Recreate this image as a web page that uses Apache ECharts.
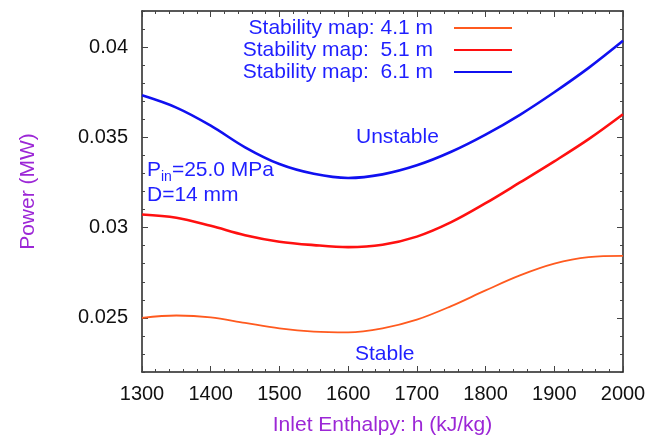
<!DOCTYPE html>
<html>
<head>
<meta charset="utf-8">
<script src="https://cdn.jsdelivr.net/npm/echarts@6/dist/echarts.min.js"></script>
<style>
  html, body { margin: 0; padding: 0; background: #fff; }
  #chart { width: 664px; height: 438px; }
</style>
</head>
<body>
<div id="chart"></div>
<script>
// Inlet enthalpy (kJ/kg)
const enthalpy = [1300, 1350, 1400, 1450, 1500, 1550, 1600, 1650, 1700, 1750, 1800, 1850, 1900, 1950, 2000];
// Threshold power (MW) for each heated length
const power41 = [0.02500, 0.02513, 0.02503, 0.02472, 0.02442, 0.02424, 0.02420, 0.02442, 0.02490, 0.02565, 0.02652, 0.02735, 0.02800, 0.02836, 0.02843];
const power51 = [0.03073, 0.03055, 0.03010, 0.02958, 0.02922, 0.02903, 0.02892, 0.02905, 0.02950, 0.03030, 0.03135, 0.03250, 0.03367, 0.03490, 0.03628];
const power61 = [0.03733, 0.03665, 0.03565, 0.03445, 0.03352, 0.03298, 0.03275, 0.03295, 0.03345, 0.03420, 0.03515, 0.03625, 0.03750, 0.03885, 0.04035];

const seriesNames = ['Stability map: 4.1 m', 'Stability map:  5.1 m', 'Stability map:  6.1 m'];
const yMajorTicks = [0.025, 0.03, 0.035, 0.04];

const blueText = '#1f1fff';
const violet = '#9c27d6';
const font = 'Liberation Sans, Arial, Helvetica, sans-serif';

const pairs = (ys) => enthalpy.map((h, i) => [h, ys[i]]);

const chart = echarts.init(document.getElementById('chart'), null, { renderer: 'canvas' });

const frameLine = { show: true, onZero: false, lineStyle: { color: '#222', width: 1.5 } };
const tickStyle = { color: '#444', width: 1 };

const xCommon = {
  type: 'value', min: 1300, max: 2000, interval: 100,
  axisLine: frameLine,
  axisTick: { show: true, inside: true, length: 6, lineStyle: tickStyle },
  minorTick: { show: true, splitNumber: 5, length: 3, lineStyle: tickStyle },
  splitLine: { show: false }
};

const yRange = { type: 'value', min: 0.022, max: 0.042, interval: 0.001, splitLine: { show: false } };

const curveSmooth = 0.35;

const option = {
  backgroundColor: '#fff',
  animation: false,
  grid: { left: 142, right: 41, top: 11, bottom: 66, containLabel: false, outerBoundsMode: 'none' },
  legend: {
    orient: 'vertical',
    align: 'right',
    right: 151,
    top: 17,
    padding: 0,
    itemGap: 0,
    itemWidth: 58,
    itemHeight: 10,
    selectedMode: false,
    data: seriesNames,
    itemStyle: { opacity: 0, color: 'rgba(0,0,0,0)', borderWidth: 0 },
    textStyle: { fontFamily: font, fontSize: 21, lineHeight: 22, color: blueText, padding: [0, 16, 0, 0] }
  },
  xAxis: [
    Object.assign({}, xCommon, {
      position: 'bottom',
      name: 'Inlet Enthalpy: h (kJ/kg)',
      nameLocation: 'middle',
      nameGap: 43,
      nameTextStyle: { fontFamily: font, fontSize: 21, color: violet },
      axisLabel: { show: true, margin: 12, fontFamily: font, fontSize: 20, color: '#111', formatter: (v) => String(v) }
    }),
    Object.assign({}, xCommon, { position: 'top', axisLabel: { show: false } })
  ],
  yAxis: [
    Object.assign({}, yRange, {
      position: 'left',
      axisLine: frameLine,
      axisTick: { show: true, inside: true, length: 3, lineStyle: tickStyle },
      axisLabel: {
        show: true, margin: 14, fontFamily: font, fontSize: 20, color: '#111',
        customValues: yMajorTicks,
        formatter: (v) => String(+(+v).toFixed(3))
      },
      name: 'Power (MW)',
      nameLocation: 'middle',
      nameGap: 103,
      nameTextStyle: { fontFamily: font, fontSize: 21, color: violet }
    }),
    Object.assign({}, yRange, {
      position: 'left',
      axisLine: { show: false },
      axisLabel: { show: false },
      axisTick: { show: true, inside: true, length: 6, lineStyle: tickStyle, customValues: yMajorTicks }
    }),
    Object.assign({}, yRange, {
      position: 'right',
      axisLine: frameLine,
      axisLabel: { show: false },
      axisTick: { show: true, inside: true, length: 3, lineStyle: tickStyle }
    }),
    Object.assign({}, yRange, {
      position: 'right',
      axisLine: { show: false },
      axisLabel: { show: false },
      axisTick: { show: true, inside: true, length: 6, lineStyle: tickStyle, customValues: yMajorTicks }
    })
  ],
  series: [
    {
      name: seriesNames[0], type: 'line', xAxisIndex: 0, yAxisIndex: 0,
      data: pairs(power41), smooth: curveSmooth, symbol: 'none',
      lineStyle: { color: '#ff5a1f', width: 1.8 }, itemStyle: { color: '#ff5a1f' }
    },
    {
      name: seriesNames[1], type: 'line', xAxisIndex: 0, yAxisIndex: 0,
      data: pairs(power51), smooth: curveSmooth, symbol: 'none',
      lineStyle: { color: '#ff1010', width: 2.6 }, itemStyle: { color: '#ff1010' }
    },
    {
      name: seriesNames[2], type: 'line', xAxisIndex: 0, yAxisIndex: 0,
      data: pairs(power61), smooth: curveSmooth, symbol: 'none',
      lineStyle: { color: '#1010f0', width: 2.6 }, itemStyle: { color: '#1010f0' }
    }
  ],
  graphic: [
    {
      type: 'text', left: 356, top: 127,
      style: { text: 'Unstable', fontFamily: font, fontSize: 21, fill: blueText }
    },
    {
      type: 'text', left: 355, top: 344,
      style: { text: 'Stable', fontFamily: font, fontSize: 21, fill: blueText }
    },
    {
      type: 'text', left: 147, top: 160,
      style: {
        text: '{m|P}{s|in}{m|=25.0 MPa}\n{m|D=14 mm}',
        fontFamily: font, fill: blueText,
        rich: {
          m: { fontFamily: font, fontSize: 21, lineHeight: 25, verticalAlign: 'top', fill: blueText },
          s: { fontFamily: font, fontSize: 14, lineHeight: 14, verticalAlign: 'top', padding: [10, 0, 0, 0], fill: blueText }
        }
      }
    }
  ]
};

chart.setOption(option);
</script>
</body>
</html>
